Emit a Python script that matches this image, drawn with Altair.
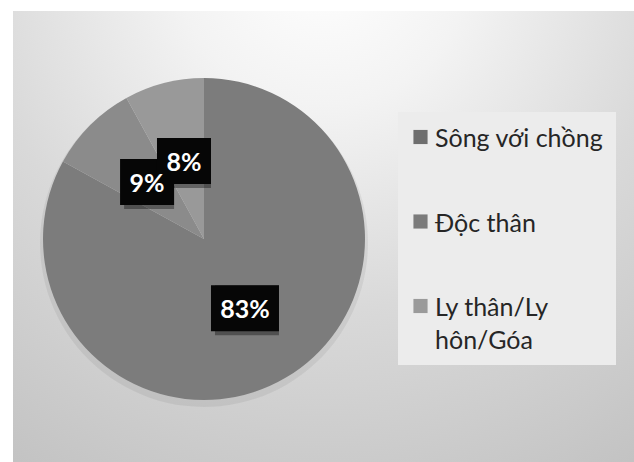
import textwrap
import altair as alt
import pandas as pd

# ---- data ----
categories = ["Sông với chồng", "Độc thân", "Ly thân/Ly hôn/Góa"]
values = [83, 9, 8]
slice_colors = ["#7c7c7c", "#8b8b8b", "#999999"]
legend_colors = ["#6e6e6e", "#7b7b7b", "#9a9a9a"]

df = pd.DataFrame({
    "cat": categories,
    "value": values,
    "order": list(range(len(categories))),
    "wrapped": [textwrap.fill(c, 14) for c in categories],
})

W, H = 634, 462
R = 161
CX, CY = 204, 239

xs = alt.Scale(domain=[-1, 1], range=[CX - R, CX + R])
ys = alt.Scale(domain=[-1, 1], range=[CY + R, CY - R])

base = alt.Chart(df)

# background panel with radial gradient
panel = alt.Chart(pd.DataFrame({"a": [0]})).mark_rect(
    color={
        "gradient": "radial",
        "x1": 0.5, "y1": 0.05, "r1": 0,
        "x2": 0.5, "y2": 0.05, "r2": 0.95,
        "stops": [
            {"offset": 0.0, "color": "#ffffff"},
            {"offset": 0.25, "color": "#f3f3f3"},
            {"offset": 0.6, "color": "#d9d9d9"},
            {"offset": 1.0, "color": "#c3c3c3"},
        ],
    }
).encode(x=alt.value(13), x2=alt.value(W), y=alt.value(11), y2=alt.value(H))

legend_box = alt.Chart(pd.DataFrame({"a": [0]})).mark_rect(color="#ececec").encode(
    x=alt.value(398), x2=alt.value(616), y=alt.value(112), y2=alt.value(365)
)

# soft shadow under the pie
pie_shadow = base.mark_arc(outerRadius=R + 3, color="#000000", opacity=0.06, yOffset=4).encode(
    theta=alt.Theta("value:Q", stack=True),
    order=alt.Order("order:Q"),
    x=alt.XDatum(0, type="quantitative", scale=xs, axis=None),
    y=alt.YDatum(0, type="quantitative", scale=ys, axis=None),
)

pie = base.mark_arc(outerRadius=R).encode(
    theta=alt.Theta("value:Q", stack=True),
    color=alt.Color("cat:N", scale=alt.Scale(domain=categories, range=slice_colors), legend=None),
    order=alt.Order("order:Q"),
    x=alt.XDatum(0, type="quantitative", scale=xs, axis=None),
    y=alt.YDatum(0, type="quantitative", scale=ys, axis=None),
)

lab = base.transform_joinaggregate(total="sum(value)").transform_window(
    cum="sum(value)", sort=[alt.SortField("order")]
).transform_calculate(
    mid="(datum.cum - datum.value / 2) / datum.total * 2 * PI",
    cx="0.5 * sin(datum.mid)",
    cy="0.5 * cos(datum.mid)",
    pct="format(datum.value / datum.total, '.0%')",
    hw=f"(13 + 7 * length(datum.pct)) / {R}",
    hh=f"23 / {R}",
).transform_calculate(
    bx1="datum.cx - datum.hw",
    bx2="datum.cx + datum.hw",
    by1="datum.cy - datum.hh",
    by2="datum.cy + datum.hh",
)

box_enc = dict(
    x=alt.X("bx1:Q", scale=xs, axis=None),
    x2="bx2:Q",
    y=alt.Y("by1:Q", scale=ys, axis=None),
    y2="by2:Q",
)
shadows = lab.mark_rect(color="#000000", opacity=0.35, xOffset=4, yOffset=4).encode(**box_enc)
boxes = lab.mark_rect(color="#060606").encode(**box_enc)
texts = lab.mark_text(color="white", font="Lato", fontWeight="bold", fontSize=25, dy=2).encode(
    x=alt.X("cx:Q", scale=xs, axis=None),
    y=alt.Y("cy:Q", scale=ys, axis=None),
    text="pct:N",
)

ly = alt.Scale(domain=categories, range=[137, 306], padding=0)
leg_sym = base.mark_square(size=200, opacity=1).encode(
    x=alt.value(420.5),
    y=alt.Y("cat:N", scale=ly, axis=None),
    color=alt.Color("cat:N", scale=alt.Scale(domain=categories, range=legend_colors), legend=None),
)
leg_txt = base.mark_text(
    align="left", baseline="top", dy=-10, font="Lato", fontSize=25,
    lineBreak="\n", lineHeight=33, color="#262626",
).encode(
    x=alt.value(435),
    y=alt.Y("cat:N", scale=ly, axis=None),
    text="wrapped:N",
)

chart = alt.layer(
    panel, legend_box, pie_shadow, pie, shadows, boxes, texts, leg_sym, leg_txt
).resolve_scale(
    x="independent", y="independent", color="independent"
).properties(
    width=W, height=H, padding=0, autosize="none", background="white"
).configure_view(stroke=None)

chart.save("out.html", embed_options={"renderer": "svg", "actions": False})
